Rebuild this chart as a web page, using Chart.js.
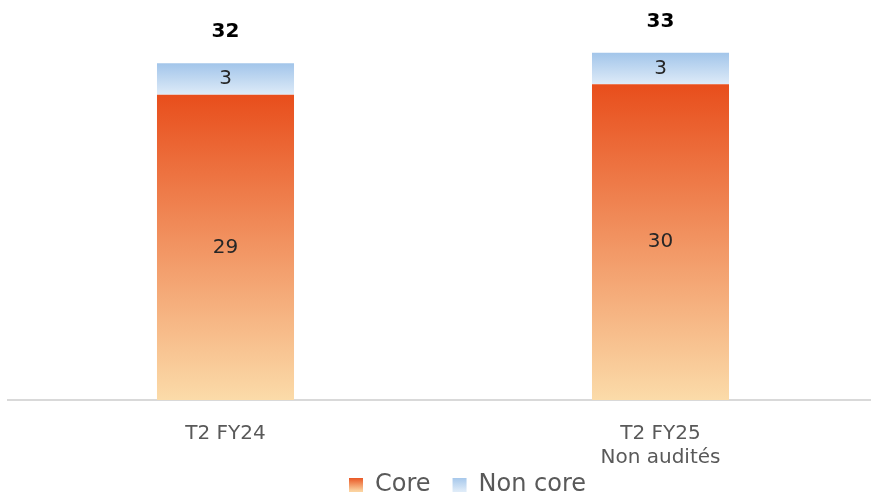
<!DOCTYPE html>
<html>
<head>
<meta charset="utf-8">
<script src="https://cdn.jsdelivr.net/npm/chart.js@4/dist/chart.umd.min.js"></script>
<style>
  html, body { margin: 0; padding: 0; background: #fff; }
  #wrap { width: 871px; height: 492px; }
</style>
</head>
<body>
<div id="wrap"><canvas id="myChart"></canvas></div>
<script>
const categories = [['T2 FY24'], ['T2 FY25', 'Non audités']];
const coreValues = [29, 30];
const nonCoreValues = [3, 3];
const totals = [32, 33];

const FONT = "'DejaVu Sans', sans-serif";
const LEGEND_Y = 484;

// vertical gradient over one stacked segment
function segGradient(ctx, from, to, topColor, bottomColor) {
  const chart = ctx.chart;
  if (!chart.chartArea || !chart.scales.y) return bottomColor;
  const y = chart.scales.y;
  const top = y.getPixelForValue(to);
  const bottom = y.getPixelForValue(from);
  const g = chart.ctx.createLinearGradient(0, top, 0, bottom);
  g.addColorStop(0, topColor);
  g.addColorStop(1, bottomColor);
  return g;
}

function legendGradient(chart, topColor, bottomColor) {
  const g = chart.ctx.createLinearGradient(0, LEGEND_Y - 7, 0, LEGEND_Y + 7);
  g.addColorStop(0, topColor);
  g.addColorStop(1, bottomColor);
  return g;
}

const labelPlugin = {
  id: 'barLabels',
  afterInit(chart) {
    // legend takes little room; it is moved into place after layout
    const lg = chart.legend;
    const fit = lg.fit;
    lg.fit = function () { fit.call(this); this.height = 22; };
  },
  afterLayout(chart) {
    const lg = chart.legend;
    const p = lg.options.labels.padding;
    lg.top = LEGEND_Y - p - 11;
    lg.bottom = chart.height;
    lg.left += 28;
    lg.right += 28;
    // the category axis runs a little past the right edge
    const sx = chart.scales.x;
    sx.right = chart.width + 7;
    sx.width = sx.right - sx.left;
    sx.configure();
  },
  afterDatasetsDraw(chart) {
    const ctx = chart.ctx;
    ctx.save();
    ctx.textAlign = 'center';
    ctx.textBaseline = 'middle';
    chart.data.datasets.forEach((ds, i) => {
      chart.getDatasetMeta(i).data.forEach((bar, j) => {
        ctx.font = '20px ' + FONT;
        ctx.fillStyle = '#262626';
        ctx.fillText(ds.data[j], bar.x, (bar.y + bar.base) / 2);
      });
    });
    const top = chart.getDatasetMeta(1).data;
    top.forEach((bar, j) => {
      ctx.font = 'bold 20px ' + FONT;
      ctx.fillStyle = '#000';
      ctx.fillText(totals[j], bar.x, bar.y - 31);
    });
    ctx.restore();
  }
};

const data = {
  labels: categories,
  datasets: [{
    label: 'Core',
    data: coreValues,
    backgroundColor: (c) => segGradient(c, 0, coreValues[c.dataIndex], '#E84E1C', '#FBDBA9'),
    categoryPercentage: 0.315,
    barPercentage: 1
  }, {
    label: 'Non core',
    data: nonCoreValues,
    backgroundColor: (c) => segGradient(c, coreValues[c.dataIndex], coreValues[c.dataIndex] + nonCoreValues[c.dataIndex], '#A2C5EA', '#DEEBF8'),
    categoryPercentage: 0.315,
    barPercentage: 1
  }]
};

const config = {
  type: 'bar',
  data: data,
  options: {
    maintainAspectRatio: false,
    responsive: true,
    animation: false,
    layout: { padding: { left: 8, right: 0, top: 0, bottom: 0 } },
    plugins: {
      tooltip: { enabled: false },
      legend: {
        position: 'bottom',
        labels: {
          boxWidth: 14,
          boxHeight: 14,
          padding: 22,
          color: '#595959',
          font: { family: FONT, size: 24 },
          generateLabels: (chart) => [
            { text: 'Core', fillStyle: legendGradient(chart, '#E84E1C', '#FBD3A0'), strokeStyle: 'transparent', lineWidth: 0, fontColor: '#595959' },
            { text: 'Non core', fillStyle: legendGradient(chart, '#A2C5EA', '#DEEBF8'), strokeStyle: 'transparent', lineWidth: 0, fontColor: '#595959' }
          ]
        }
      }
    },
    scales: {
      x: {
        stacked: true,
        grid: { display: false },
        border: { color: '#d9d9d9', width: 2 },
        ticks: {
          color: '#595959',
          padding: 14,
          font: { family: FONT, size: 20, lineHeight: 1.2 }
        },
        afterFit: (scale) => { scale.height = 70; }
      },
      y: {
        stacked: true,
        display: false,
        min: 0,
        max: 38
      }
    }
  },
  plugins: [labelPlugin]
};

const myChart = new Chart(document.getElementById('myChart'), config);
</script>
</body>
</html>
